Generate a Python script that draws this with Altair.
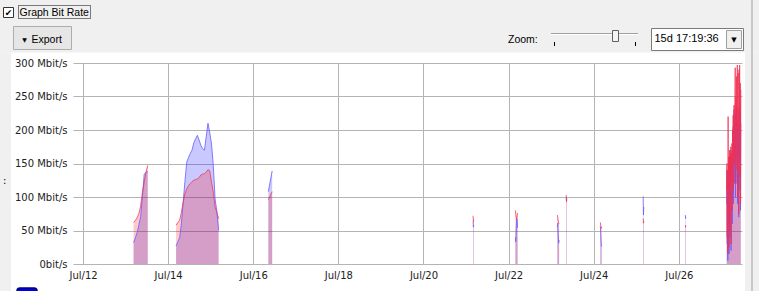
import altair as alt
import pandas as pd

# ---------------- data (Mbit/s) ----------------
SEG_NAMES = ["jul13", "jul14", "jul16", "jul21", "jul22", "jul23a",
             "jul23b", "jul24", "jul25", "jul26", "jul27"]
SEG_STARTS = ["2023-07-13 04:30", "2023-07-14 04:28", "2023-07-16 08:30",
              "2023-07-21 04:00", "2023-07-22 03:50", "2023-07-23 03:30",
              "2023-07-23 08:30", "2023-07-24 03:45", "2023-07-25 03:55",
              "2023-07-26 03:40", "2023-07-27 03:00"]
SEG_STEP_MIN = [60, 60, 130, 10, 15, 15, 10, 15, 10, 10, 10]

jul13_blue = [32, 39, 47, 58, 71, 101, 134, 137, 138]
jul13_red = [62, 65, 69, 75, 87, 107, 122, 137, 147]
jul14_blue = [27, 33, 39, 60, 92, 123, 152, 159, 165, 170, 181, 187, 192,
              185, 177, 172, 170, 190, 210, 196, 179, 147, 97, 79, 50]
jul14_red = [58, 62, 65, 77, 92, 105, 112, 117, 120, 123, 125, 126, 127,
             129, 133, 134, 135, 137, 141, 139, 122, 107, 85, 77, 68]
jul16_blue = [108, 139]
jul16_red = [96, 108]
jul21_blue = [63, 55, 58]
jul21_red = [72, 63, 66]
jul22_blue = [40, 33, 55, 66, 67, 54]
jul22_red = [80, 74, 70, 66, 72, 76]
jul23a_blue = [55, 61, 45, 31, 36]
jul23a_red = [73, 70, 64, 61, 60]
jul23b_blue = [100, 95, 98]
jul23b_red = [103, 93, 96]
jul24_blue = [56, 45, 30, 26]
jul24_red = [62, 58, 53, 55]
jul25_blue = [101, 73, 85]
jul25_red = [68, 61, 64]
jul26_blue = [73, 68, 70]
jul26_red = [58, 55, 57]
jul27_blue = [90, 140, 30, 120, 5, 135, 60, 150, 15, 120, 160, 40, 145, 100,
              170, 20, 150, 120, 165, 60, 180,
              140, 205, 90, 190, 230, 120, 210, 160, 225, 100, 200, 150, 235, 180,
              120, 215, 90, 190, 232, 140, 70, 210, 160, 235, 110, 225, 80, 210]
jul27_red = [110, 150, 40, 140, 15, 220, 70, 160, 25, 130, 170, 50, 160, 120,
             175, 30, 165, 140, 180, 80, 200,
             160, 222, 110, 210, 237, 150, 230, 240, 293, 120, 250, 200, 280, 190,
             140, 297, 100, 270, 285, 160, 75, 290, 200, 297, 130, 270, 90, 260]

BLUE = [jul13_blue, jul14_blue, jul16_blue, jul21_blue, jul22_blue, jul23a_blue,
        jul23b_blue, jul24_blue, jul25_blue, jul26_blue, jul27_blue]
RED = [jul13_red, jul14_red, jul16_red, jul21_red, jul22_red, jul23a_red,
       jul23b_red, jul24_red, jul25_red, jul26_red, jul27_red]

TICK_DAYS = [12, 14, 16, 18, 20, 22, 24, 26]
Y_TICKS = [0, 50, 100, 150, 200, 250, 300]

rows = []
for name, start, step, b, r in zip(SEG_NAMES, SEG_STARTS, SEG_STEP_MIN, BLUE, RED):
    t0 = pd.Timestamp(start)
    for i, (bv, rv) in enumerate(zip(b, r)):
        t = t0 + pd.Timedelta(minutes=step * i)
        rows.append({"t": t.strftime("%Y-%m-%dT%H:%M:%S"), "seg": name,
                     "blue": bv, "red": rv})
df = pd.DataFrame(rows)

# ---------------- layout ----------------
OX, OY = 73, 63          # plot origin in the page
W, H = 669, 201          # plot size

xscale = alt.Scale(domain=[alt.DateTime(year=2023, month=7, date=11, hours=18, minutes=20),
                           alt.DateTime(year=2023, month=7, date=27, hours=11, minutes=39, seconds=36)],
                   nice=False)
yscale = alt.Scale(domain=[0, 300], nice=False)

xaxis = alt.Axis(values=[alt.DateTime(year=2023, month=7, date=d) for d in TICK_DAYS],
                 format="%b/%d", title=None, ticks=False, domain=False,
                 labelFont="DejaVu Sans", labelFontSize=10, labelColor="#222222",
                 labelPadding=6, gridColor="#b4b4b4", labelFlush=False,
                 labelOverlap=False)
yaxis = alt.Axis(values=Y_TICKS, title=None, ticks=False, domain=False,
                 labelExpr="datum.value == 0 ? '0bit/s' : datum.value + ' Mbit/s'",
                 labelFont="DejaVu Sans", labelFontSize=10, labelColor="#222222",
                 labelPadding=6, gridColor="#b4b4b4")

base = alt.Chart(df)
X = alt.X("t:T", scale=xscale, axis=xaxis)

blue_area = base.mark_area(color="#0000ff", opacity=0.21).encode(
    x=X, y=alt.Y("blue:Q", scale=yscale, axis=yaxis, stack=None), detail="seg:N")
red_area = base.mark_area(color="#ff0000", opacity=0.21).encode(
    x=X, y=alt.Y("red:Q", scale=yscale, axis=yaxis, stack=None), detail="seg:N")
blue_line = base.mark_line(color="#6a5cff", strokeWidth=1, opacity=0.8).encode(
    x=X, y=alt.Y("blue:Q", scale=yscale, axis=yaxis, stack=None), detail="seg:N")
red_line = base.mark_line(color="#f03050", strokeWidth=1, opacity=0.75).encode(
    x=X, y=alt.Y("red:Q", scale=yscale, axis=yaxis, stack=None), detail="seg:N")

DUMMY = alt.Data(values=[{"k": 1}])


def rect(x1, y1, x2, y2, **kw):
    return alt.Chart(DUMMY).mark_rect(**kw).encode(
        x=alt.value(x1 - OX), x2=alt.value(x2 - OX),
        y=alt.value(y1 - OY), y2=alt.value(y2 - OY))


def text(s, x, y, align="left", size=11, font="Liberation Sans", color="#000000"):
    return alt.Chart(DUMMY).mark_text(text=s, align=align, baseline="middle",
                                      font=font, fontSize=size, color=color).encode(
        x=alt.value(x - OX), y=alt.value(y - OY))


chrome = [
    # grey window areas around the white chart panel
    rect(0, 0, 759, 52.5, fill="#f0f0f0"),
    rect(0, 52.5, 11, 291, fill="#f0f0f0"),
    rect(745, 52.5, 759, 291, fill="#f0f0f0"),
    rect(751.5, 0, 752.5, 291, fill="#a0a0a0"),
    # checkbox + label
    rect(3.5, 7.5, 13.5, 17.5, fill="#ffffff", stroke="#333333", strokeWidth=1),
    text("✔", 8.6, 12.8, align="center", size=9, font="DejaVu Sans"),
    rect(18.5, 5.5, 90.5, 18.5, fill="transparent", stroke="#000000",
         strokeWidth=1, strokeDash=[1, 1]),
    text("Graph Bit Rate", 19.5, 12.5, size=10.5),
    # export button
    rect(13.5, 26.5, 71.5, 49.5, fill="#e6e6e6", stroke="#adadad", strokeWidth=1),
    text("▼", 24.5, 39.5, align="center", size=6, font="DejaVu Sans"),
    text("Export", 31.5, 40, size=10.5),
    # zoom slider
    text("Zoom:", 508, 40, size=10.5),
    rect(551, 33, 638, 34, fill="#a0a0a0"),
    rect(551, 34, 638, 35, fill="#ffffff"),
    rect(612.5, 30.5, 618.5, 41.5, fill="#f4f4f4", stroke="#606060", strokeWidth=1),
    rect(554, 42, 555, 46, fill="#000000"),
    rect(635, 42, 636, 46, fill="#000000"),
    # dropdown
    rect(651.5, 28.5, 743.5, 50.5, fill="#ffffff", stroke="#7a7a7a", strokeWidth=1),
    text("15d 17:19:36", 654.5, 38.5),
    rect(726.5, 30.5, 741.5, 48.5, fill="#f0f0f0", stroke="#a0a0a0", strokeWidth=1),
    text("▼", 734, 39.5, align="center", size=7, font="DejaVu Sans"),
    # stray UI bits
    text(":", 3, 181, size=10, font="DejaVu Sans"),
    rect(17, 288, 37, 297, fill="#0000e0", stroke="#000080", strokeWidth=1.5,
         cornerRadius=3),
]

chart = alt.layer(blue_area, red_area, blue_line, red_line, *chrome).properties(
    width=W, height=H,
    padding={"left": OX, "top": OY, "right": 759 - OX - W, "bottom": 291 - OY - H},
    autosize=alt.AutoSizeParams(type="none"),
).configure(background="#ffffff").configure_view(stroke="transparent")

chart.save("out.html", embed_options={"renderer": "svg", "actions": False})
